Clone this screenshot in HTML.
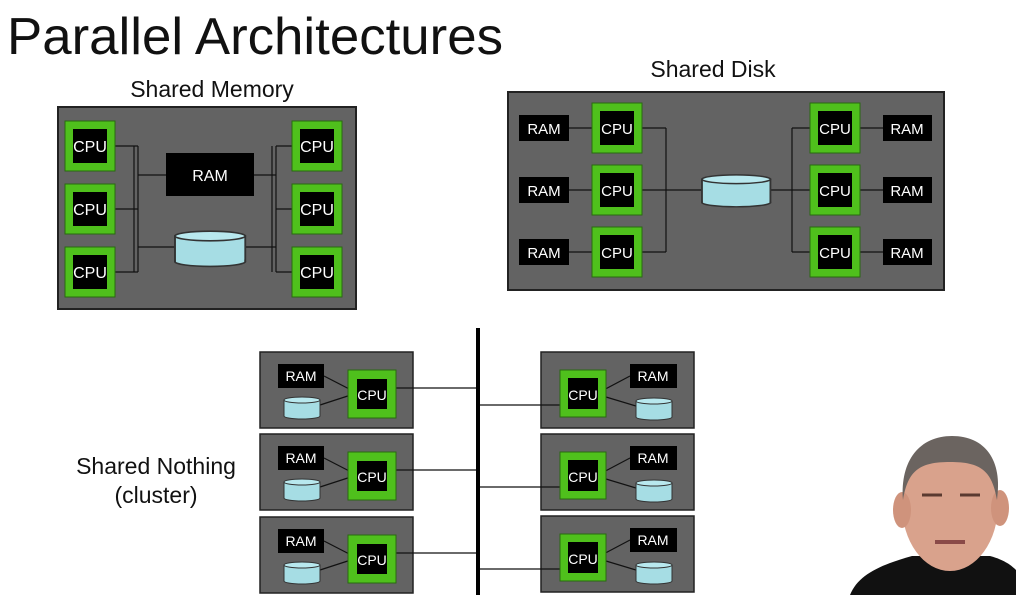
<!DOCTYPE html>
<html><head><meta charset="utf-8"><style>
html,body{margin:0;padding:0;background:#fff;}
svg{display:block;font-family:"Liberation Sans",Arial,sans-serif;}
</style></head><body>
<svg width="1016" height="595" viewBox="0 0 1016 595" xmlns="http://www.w3.org/2000/svg">
<defs>
 <g id="cpu"><rect x="0" y="0" width="50" height="50" fill="#4fc01c" stroke="#2a6a10" stroke-width="1"/><rect x="8" y="8" width="34" height="34" fill="#000"/></g>
 <g id="cyl"><rect x="0" y="5" width="36" height="16" fill="#a6dde4" stroke="#333" stroke-width="1"/><ellipse cx="18" cy="21" rx="18" ry="3" fill="#a6dde4" stroke="#333"/><rect x="0.5" y="5" width="35" height="16" fill="#a6dde4"/><ellipse cx="18" cy="5" rx="18" ry="3" fill="#b8e8ee" stroke="#333"/></g>
</defs>
<text x="7" y="54" font-size="52" fill="#111" textLength="496" lengthAdjust="spacingAndGlyphs">Parallel Architectures</text>

<!-- Shared Memory -->
<text x="212" y="97" font-size="23" text-anchor="middle" fill="#111">Shared Memory</text>
<rect x="58" y="107" width="298" height="202" fill="#636363" stroke="#222" stroke-width="2"/>
<g stroke="#111" stroke-width="1.2" fill="none">
 <path d="M107 146H138M107 209H138M107 272H138M134 146V272M138 146V272M138 175H166M138 247H175"/>
 <path d="M276 146H300M276 209H300M276 272H300M272 146V272M276 146V272M254 175H276M245 247H276"/>
</g>
<use href="#cpu" x="65" y="121"/><use href="#cpu" x="65" y="184"/><use href="#cpu" x="65" y="247"/>
<use href="#cpu" x="292" y="121"/><use href="#cpu" x="292" y="184"/><use href="#cpu" x="292" y="247"/>
<rect x="166" y="153" width="88" height="43" fill="#000"/>
<text x="210" y="181" font-size="16" fill="#fff" text-anchor="middle">RAM</text>
<g transform="translate(175,228) scale(1.95,1.6)"><use href="#cyl"/></g>
<g font-size="16" fill="#fff" text-anchor="middle">
 <text x="90" y="152">CPU</text><text x="90" y="215">CPU</text><text x="90" y="278">CPU</text>
 <text x="317" y="152">CPU</text><text x="317" y="215">CPU</text><text x="317" y="278">CPU</text>
</g>

<!-- Shared Disk -->
<text x="713" y="77" font-size="23" text-anchor="middle" fill="#111">Shared Disk</text>
<rect x="508" y="92" width="436" height="198" fill="#636363" stroke="#222" stroke-width="2"/>
<g stroke="#111" stroke-width="1.2" fill="none">
 <path d="M569 128H600M569 190H600M569 252H600M851 128H883M851 190H883M851 252H883"/>
 <path d="M633 128H666M633 190H702M633 252H666M666 128V252M770 190H818M792 128H818M792 252H818M792 128V252"/>
</g>
<g>
 <use href="#cpu" x="592" y="103"/><use href="#cpu" x="592" y="165"/><use href="#cpu" x="592" y="227"/>
 <use href="#cpu" x="810" y="103"/><use href="#cpu" x="810" y="165"/><use href="#cpu" x="810" y="227"/>
</g>
<g fill="#000">
 <rect x="519" y="115" width="50" height="26"/><rect x="519" y="177" width="50" height="26"/><rect x="519" y="239" width="50" height="26"/>
 <rect x="883" y="115" width="49" height="26"/><rect x="883" y="177" width="49" height="26"/><rect x="883" y="239" width="49" height="26"/>
</g>
<g transform="translate(702,172) scale(1.9,1.45)"><use href="#cyl"/></g>
<g font-size="15" fill="#fff" text-anchor="middle">
 <text x="544" y="134">RAM</text><text x="544" y="196">RAM</text><text x="544" y="258">RAM</text>
 <text x="907" y="134">RAM</text><text x="907" y="196">RAM</text><text x="907" y="258">RAM</text>
 <text x="617" y="134">CPU</text><text x="617" y="196">CPU</text><text x="617" y="258">CPU</text>
 <text x="835" y="134">CPU</text><text x="835" y="196">CPU</text><text x="835" y="258">CPU</text>
</g>

<!-- Shared Nothing -->
<text x="156" y="474" font-size="23" text-anchor="middle" fill="#111">Shared Nothing</text>
<text x="156" y="503" font-size="23" text-anchor="middle" fill="#111">(cluster)</text>
<rect x="476" y="328" width="4" height="267" fill="#000"/>

<g id="lu">
 <rect x="260" y="352" width="153" height="76" fill="#636363" stroke="#222" stroke-width="1.5"/>
 <path d="M324 376L357 393M320 405L357 393M396 388H476" stroke="#111" stroke-width="1.2" fill="none"/>
 <rect x="348" y="370" width="48" height="48" fill="#4fc01c" stroke="#2a6a10"/>
 <rect x="357" y="379" width="30" height="30" fill="#000"/>
 <rect x="278" y="364" width="46" height="24" fill="#000"/>
 <g transform="translate(284,395)"><use href="#cyl"/></g>
 <text x="301" y="381" font-size="14" fill="#fff" text-anchor="middle">RAM</text>
 <text x="372" y="400" font-size="14" fill="#fff" text-anchor="middle">CPU</text>
</g>
<use href="#lu" y="82"/>
<use href="#lu" y="165"/>

<g id="ru">
 <rect x="541" y="352" width="153" height="76" fill="#636363" stroke="#222" stroke-width="1.5"/>
 <path d="M480 405H568M596 394L630 376M596 394L636 406" stroke="#111" stroke-width="1.2" fill="none"/>
 <rect x="560" y="370" width="46" height="47" fill="#4fc01c" stroke="#2a6a10"/>
 <rect x="568" y="378" width="30" height="31" fill="#000"/>
 <rect x="630" y="364" width="47" height="24" fill="#000"/>
 <g transform="translate(636,396)"><use href="#cyl"/></g>
 <text x="653" y="381" font-size="14" fill="#fff" text-anchor="middle">RAM</text>
 <text x="583" y="400" font-size="14" fill="#fff" text-anchor="middle">CPU</text>
</g>
<use href="#ru" y="82"/>
<use href="#ru" y="164"/>

<!-- presenter -->
<path d="M850 595C858 575 880 565 912 556L990 556C1005 560 1012 566 1016 570V595Z" fill="#111"/>
<ellipse cx="950" cy="505" rx="48" ry="66" fill="#d9a28c"/>
<ellipse cx="902" cy="510" rx="9" ry="18" fill="#cf937c"/>
<ellipse cx="1000" cy="508" rx="9" ry="18" fill="#cf937c"/>
<path d="M903 500C900 460 920 436 952 436C985 436 1003 460 997 500C992 470 980 462 950 462C920 462 908 470 903 500Z" fill="#6b6460"/>
<path d="M922 495H942M960 495H980" stroke="#5a3a30" stroke-width="3"/>
<path d="M935 542H965" stroke="#8a4a48" stroke-width="4"/>
</svg>
</body></html>
